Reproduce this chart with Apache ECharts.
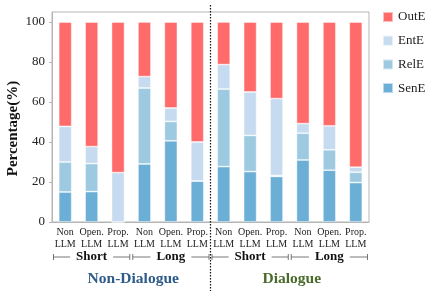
<!DOCTYPE html>
<html>
<head>
<meta charset="utf-8">
<script src="https://cdn.jsdelivr.net/npm/echarts@6/dist/echarts.min.js"></script>
<style>html,body{margin:0;padding:0;background:#fff}#c{width:436px;height:291px}</style>
</head>
<body>
<div id="c"></div>
<script>
const categories = ['Non\nLLM','Open.\nLLM','Prop.\nLLM','Non\nLLM','Open.\nLLM','Prop.\nLLM',
                    'Non\nLLM','Open.\nLLM','Prop.\nLLM','Non\nLLM','Open.\nLLM','Prop.\nLLM'];
const senE = [15, 15.2, 0, 29, 40.6, 20.5, 27.7, 25.2, 22.8, 31, 25.9, 19.7];
const relE = [15, 14, 0, 38, 9.7, 0, 38.8, 18.1, 0.5, 13.4, 10.2, 5.2];
const entE = [17.8, 8.5, 24.7, 5.7, 6.7, 19.5, 12.2, 21.7, 38.4, 4.8, 12, 2.5];
const outE = [52.2, 62.3, 75.3, 27.3, 43, 60, 21.3, 35, 38.3, 50.8, 51.9, 72.6];
const yTicks = [0, 20, 40, 60, 80, 100];
const groupLabels = ['Short', 'Long', 'Short', 'Long'];
const sectionLabels = ['Non-Dialogue', 'Dialogue'];
const sectionColors = ['#2e5b8a', '#4a6a2a'];

const FONT = 'Liberation Serif';
const colors = {OutE: '#ff6b6b', EntE: '#c6dbef', RelE: '#9ecae1', SenE: '#6baed6'};

const chart = echarts.init(document.getElementById('c'), null, {renderer: 'canvas'});

function mkSeries(name, data) {
  return {
    name, type: 'bar', stack: 'all', data, barWidth: 13,
    itemStyle: {color: colors[name], borderColor: 'rgba(255,255,255,0.55)', borderWidth: 0.8},
    emphasis: {disabled: true}
  };
}

chart.setOption({
  animation: false,
  textStyle: {fontFamily: FONT},
  grid: {left: 52, right: 67, top: 12, bottom: 69, show: true, borderColor: '#b5b5b5', borderWidth: 1},
  legend: {
    orient: 'vertical', left: 382, top: 10.5, padding: 0,
    itemWidth: 10, itemHeight: 10, itemGap: 10.7,
    data: ['OutE', 'EntE', 'RelE', 'SenE'],
    textStyle: {fontFamily: FONT, fontSize: 13, color: '#222'},
    icon: 'rect'
  },
  xAxis: {
    type: 'category', data: categories,
    axisLine: {lineStyle: {color: '#b5b5b5'}},
    axisTick: {show: false},
    axisLabel: {fontFamily: FONT, fontSize: 10, lineHeight: 12, color: '#222', margin: 4, interval: 0}
  },
  yAxis: {
    type: 'value', min: 0, max: 105, interval: 20,
    splitLine: {show: false},
    axisLine: {show: true, lineStyle: {color: '#b5b5b5'}},
    axisTick: {show: true, length: 3, lineStyle: {color: '#b5b5b5'}},
    axisLabel: {
      fontFamily: FONT, fontSize: 13, color: '#222', margin: 7, showMaxLabel: false,
      formatter: v => yTicks.indexOf(v) >= 0 ? String(v) : ''
    }
  },
  series: [mkSeries('SenE', senE), mkSeries('RelE', relE), mkSeries('EntE', entE), mkSeries('OutE', outE)]
});

// annotations positioned from axis scale
const px = i => chart.convertToPixel({xAxisIndex: 0}, i);
const band = px(1) - px(0);
const edgeL = i => px(i) - band / 2;
const edgeR = i => px(i) + band / 2;
const g = [];
const yB = 257;
for (let k = 0; k < 4; k++) {
  const x0 = edgeL(k * 3) + 1.5, x1 = edgeR(k * 3 + 2) - 1.5;
  g.push({type: 'line', shape: {x1: x0, y1: yB, x2: x1, y2: yB}, style: {stroke: '#555', lineWidth: 0.8}, z: 1});
  g.push({type: 'line', shape: {x1: x0, y1: yB - 3, x2: x0, y2: yB + 3}, style: {stroke: '#555', lineWidth: 0.8}, z: 1});
  g.push({type: 'line', shape: {x1: x1, y1: yB - 3, x2: x1, y2: yB + 3}, style: {stroke: '#555', lineWidth: 0.8}, z: 1});
  g.push({type: 'text', x: (x0 + x1) / 2, y: yB, z: 2,
    style: {text: groupLabels[k], fontFamily: FONT, fontWeight: 'bold', fontSize: 13, fill: '#111',
      align: 'center', verticalAlign: 'middle', backgroundColor: '#fff', padding: [0, 6]}});
}
for (let s = 0; s < 2; s++) {
  const cx = (edgeL(s * 6) + edgeR(s * 6 + 5)) / 2 + 2;
  g.push({type: 'text', x: cx, y: 278.5, z: 2,
    style: {text: sectionLabels[s], fontFamily: FONT, fontWeight: 'bold', fontSize: 15.5, fill: sectionColors[s],
      align: 'center', verticalAlign: 'middle'}});
}
const xd = (px(5) + px(6)) / 2;
g.push({type: 'line', shape: {x1: xd, y1: 5, x2: xd, y2: 291}, style: {stroke: '#111', lineWidth: 1.2, lineDash: [1.5, 1.5]}, z: 10});
g.push({type: 'text', x: 13, y: 128.5, rotation: Math.PI / 2, z: 2,
  style: {text: 'Percentage(%)', fontFamily: FONT, fontWeight: 'bold', fontSize: 15, fill: '#111',
    align: 'center', verticalAlign: 'middle'}});
chart.setOption({graphic: g});
</script>
</body>
</html>
